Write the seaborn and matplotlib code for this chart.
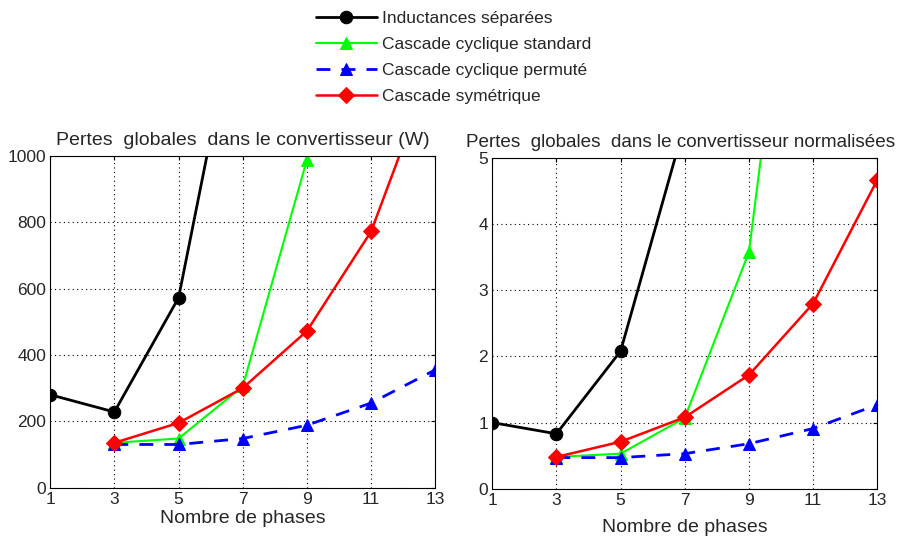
import matplotlib
matplotlib.use("Agg")
import matplotlib.pyplot as plt
import seaborn as sns
import pandas as pd

# Number of phases
phases = [1, 3, 5, 7, 9, 11, 13]

# Losses in W (left panel)
separees_w = [280, 228, 572, 1540, None, None, None]
standard_w = [None, 135, 148, 305, 988, 3150, None]
permute_w = [None, 130, 130, 148, 188, 255, 355]
symetrique_w = [None, 135, 195, 300, 472, 772, 1290]

# Normalised losses (right panel)
separees_n = [1.0, 0.83, 2.08, 5.52, None, None, None]
standard_n = [None, 0.48, 0.53, 1.07, 3.58, 11.26, None]
permute_n = [None, 0.47, 0.47, 0.53, 0.68, 0.91, 1.27]
symetrique_n = [None, 0.48, 0.71, 1.08, 1.72, 2.80, 4.67]

labels = ["Inductances séparées", "Cascade cyclique standard",
          "Cascade cyclique permuté", "Cascade symétrique"]
styles = [
    dict(color="black", marker="o", linestyle="-", linewidth=2.0),
    dict(color="#00ff00", marker="^", linestyle="-", linewidth=1.5),
    dict(color="blue", marker="^", linestyle=(0, (5, 4)), linewidth=2.0),
    dict(color="red", marker="D", linestyle="-", linewidth=1.8),
]

sns.set_style("white")
plt.rcParams["font.family"] = ["Liberation Sans", "DejaVu Sans"]

fig = plt.figure(figsize=(9.04, 5.43), dpi=100)
ax1 = fig.add_axes([0.0555, 0.102, 0.426, 0.611])
ax2 = fig.add_axes([0.5445, 0.100, 0.426, 0.609])


def draw(ax, series, ymax, yticks, title, xpad, tsize, tx):
    for vals, lab, st in zip(series, labels, styles):
        df = pd.DataFrame({"x": phases, "y": vals}).dropna()
        ms = 8 if st["marker"] == "D" else 9
        sns.lineplot(data=df, x="x", y="y", ax=ax, label=lab, color=st["color"],
                     marker=st["marker"], linestyle=st["linestyle"],
                     linewidth=st["linewidth"], markersize=ms,
                     markeredgecolor=st["color"], legend=False)
    ax.set_xlim(1, 13)
    ax.set_ylim(0, ymax)
    ax.set_xticks(phases)
    ax.set_yticks(yticks)
    ax.grid(True, color="black", linestyle=(0, (1, 3)), linewidth=0.8)
    ax.tick_params(direction="in", top=True, right=True, labelsize=12.5,
                   length=3, color="black", pad=3)
    for s in ax.spines.values():
        s.set_color("black")
        s.set_linewidth(0.8)
    ax.set_xlabel("Nombre de phases", fontsize=14, labelpad=xpad)
    ax.set_ylabel("")
    ax.set_title(title, fontsize=tsize, pad=8, x=tx)


draw(ax1, [separees_w, standard_w, permute_w, symetrique_w], 1000,
     [0, 200, 400, 600, 800, 1000],
     "Pertes  globales  dans le convertisseur (W)", 2, 14, 0.5)
draw(ax2, [separees_n, standard_n, permute_n, symetrique_n], 5,
     [0, 1, 2, 3, 4, 5],
     "Pertes  globales  dans le convertisseur normalisées", 8, 13.6, 0.49)

handles, labs = ax1.get_legend_handles_labels()
fig.legend(handles, labs, loc="upper left", bbox_to_anchor=(0.332, 1.008),
           frameon=False, fontsize=12.5, handlelength=3.5, labelspacing=0.62,
           handletextpad=0.3)

fig.savefig("out.png", dpi=100)
